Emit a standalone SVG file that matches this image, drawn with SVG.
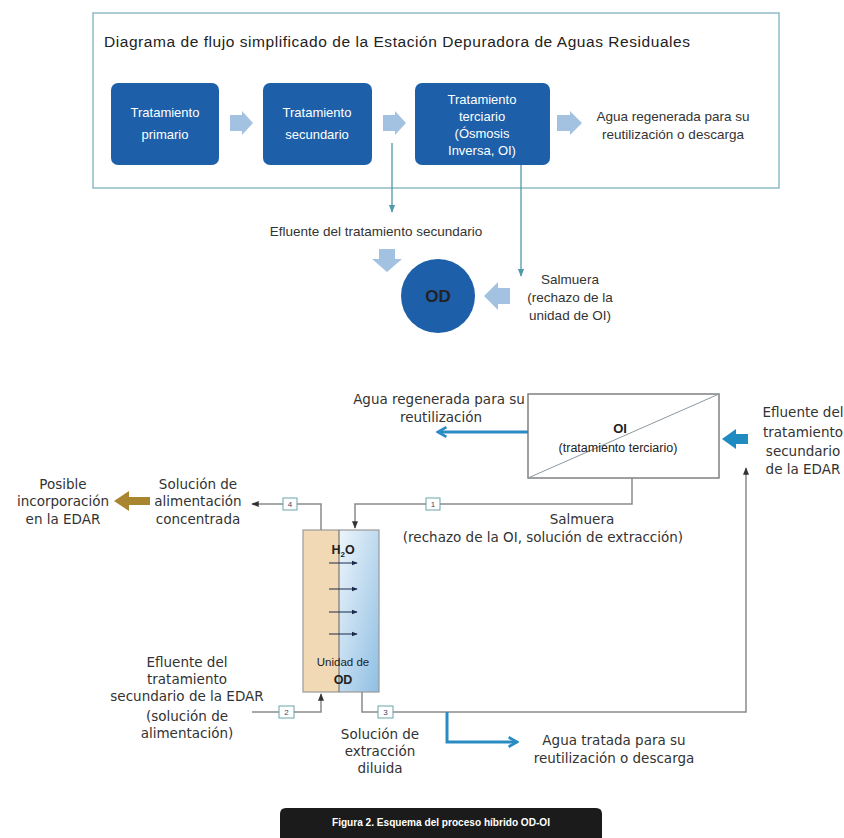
<svg xmlns="http://www.w3.org/2000/svg" width="844" height="838" viewBox="0 0 844 838">
<defs>
<style>
.t{font-family:"Liberation Sans",Arial,sans-serif;fill:#222;}
.top{font-size:13.5px;fill:#333;}
.bx{font-size:13px;fill:#fff;}
.b{font-family:"DejaVu Sans",Verdana,sans-serif;font-size:13.5px;fill:#333;}
.stepbox{fill:#1d5fa9;}
.lt{fill:#a3c2e2;}
.teal{stroke:#4f9aaa;stroke-width:1.3;fill:none;}
.gray{stroke:#8a8a8a;stroke-width:1.5;fill:none;}
.num{fill:#fff;stroke:#6aa3ad;stroke-width:1;}
.numt{font-family:"Liberation Sans",Arial,sans-serif;font-size:8px;fill:#446;text-anchor:middle;}
.blue{stroke:#2a8cc3;stroke-width:3;fill:none;}
.mem{stroke:#1a2a4a;stroke-width:1;}
</style>
<marker id="ta" viewBox="0 0 10 10" refX="9" refY="5" markerWidth="6" markerHeight="6" orient="auto"><path d="M0,1 L10,5 L0,9 z" fill="#4f9aaa"/></marker>
<marker id="ga" viewBox="0 0 10 10" refX="9" refY="5" markerWidth="5" markerHeight="5" orient="auto"><path d="M0,1 L10,5 L0,9 z" fill="#333"/></marker>
<marker id="ma" viewBox="0 0 10 10" refX="9" refY="5" markerWidth="6" markerHeight="6" orient="auto"><path d="M0,1 L10,5 L0,9 z" fill="#1a2a4a"/></marker>
<marker id="ba" viewBox="0 0 10 10" refX="8" refY="5" markerWidth="4" markerHeight="4" orient="auto"><path d="M1,1 L8,5 L1,9" fill="none" stroke="#2a8cc3" stroke-width="2.2"/></marker>
<linearGradient id="od" x1="0" y1="0" x2="1" y2="1">
<stop offset="0" stop-color="#eef5fb"/>
<stop offset="1" stop-color="#8fbfe3"/>
</linearGradient>
</defs>
<rect width="844" height="838" fill="#fff"/>

<g id="top-frame">
<rect x="93" y="13" width="686" height="175" fill="none" stroke="#8fbcc6" stroke-width="1.5"/>
<text class="t" x="104" y="47" font-size="15.5" fill="#333" textLength="586">Diagrama de flujo simplificado de la Estación Depuradora de Aguas Residuales</text>
</g>

<g id="primario">
<rect class="stepbox" x="111" y="83" width="108" height="82" rx="7"/>
<text class="t bx" x="165" y="117" text-anchor="middle">Tratamiento</text>
<text class="t bx" x="165" y="139" text-anchor="middle">primario</text>
</g>
<g id="secundario">
<rect class="stepbox" x="263" y="83" width="109" height="82" rx="7"/>
<text class="t bx" x="317" y="117" text-anchor="middle">Tratamiento</text>
<text class="t bx" x="317" y="139" text-anchor="middle">secundario</text>
</g>
<g id="terciario">
<rect class="stepbox" x="415" y="83" width="135" height="82" rx="7"/>
<text class="t bx" x="482" y="104" text-anchor="middle">Tratamiento</text>
<text class="t bx" x="482" y="121" text-anchor="middle">terciario</text>
<text class="t bx" x="482" y="138" text-anchor="middle">(Ósmosis</text>
<text class="t bx" x="482" y="155" text-anchor="middle">Inversa, OI)</text>
</g>
<g id="agua-regenerada-top">
<text class="t top" x="673" y="121" text-anchor="middle">Agua regenerada para su</text>
<text class="t top" x="673" y="139" text-anchor="middle">reutilización o descarga</text>
</g>
<g id="od-circle">
<circle cx="438" cy="296" r="37" fill="#1d5fa9"/>
<text class="t" x="438" y="302" font-size="17" font-weight="bold" fill="#fff" text-anchor="middle">OD</text>
</g>
<g id="top-labels">
<text class="t top" x="376" y="236" text-anchor="middle">Efluente del tratamiento secundario</text>
<text class="t top" x="570" y="284" text-anchor="middle">Salmuera</text>
<text class="t top" x="570" y="302" text-anchor="middle">(rechazo de la</text>
<text class="t top" x="570" y="320" text-anchor="middle">unidad de OI)</text>
</g>

<g id="top-connectors">
<polygon class="lt" points="230,115 242,115 242,111 253,123 242,135 242,131 230,131"/>
<polygon class="lt" points="383,115 395,115 395,111 406,123 395,135 395,131 383,131"/>
<polygon class="lt" points="557,115 570,115 570,111 582,123 570,135 570,131 557,131"/>
<polygon class="lt" points="379,249 395,249 395,259 402,259 387,272 372,259 379,259"/>
<polygon class="lt" points="510,288 498,288 498,282 484,296 498,310 498,304 510,304"/>
<path class="teal" d="M392,143 V212" marker-end="url(#ta)"/>
<path class="teal" d="M521,165 V276" marker-end="url(#ta)"/>
</g>

<g id="oi-box">
<rect x="528" y="394" width="191" height="84" fill="#fff" stroke="#808080" stroke-width="1.5"/>
<line x1="528" y1="478" x2="719" y2="394" stroke="#8a9aa0" stroke-width="1"/>
<text class="t" x="620" y="433" font-size="13" font-weight="bold" fill="#333" text-anchor="middle">OI</text>
<text class="t" x="618" y="452" font-size="12.5" fill="#333" text-anchor="middle">(tratamiento terciario)</text>
</g>

<g id="od-unit">
<rect x="303" y="530" width="36" height="162" fill="#f1d9b5"/>
<rect x="339" y="530" width="40" height="162" fill="url(#od)"/>
<rect x="303" y="530" width="76" height="162" fill="none" stroke="#9a9a9a" stroke-width="1.2"/>
<line x1="339" y1="530" x2="339" y2="692" stroke="#777" stroke-width="1.2"/>
<text class="t" x="343" y="554" font-size="12.5" font-weight="bold" fill="#333" text-anchor="middle">H<tspan font-size="8" dy="3">2</tspan><tspan dy="-3">O</tspan></text>
<line class="mem" x1="329" y1="563" x2="357" y2="563" marker-end="url(#ma)"/>
<line class="mem" x1="329" y1="589" x2="357" y2="589" marker-end="url(#ma)"/>
<line class="mem" x1="329" y1="612" x2="357" y2="612" marker-end="url(#ma)"/>
<line class="mem" x1="329" y1="634" x2="357" y2="634" marker-end="url(#ma)"/>
<text class="t" x="343" y="666" font-size="11.5" fill="#666" text-anchor="middle">Unidad de</text>
<text class="t" x="343" y="684" font-size="12.5" font-weight="bold" fill="#333" text-anchor="middle">OD</text>
</g>

<g id="connectors">
<path class="gray" d="M632,478 V504 H355 V528" marker-end="url(#ga)"/>
<path class="gray" d="M321,530 V504 H252" marker-end="url(#ga)"/>
<path class="gray" d="M252,712 H321 V694" marker-end="url(#ga)"/>
<path class="gray" d="M362,692 V712 H746 V468" marker-end="url(#ga)"/>
<path class="blue" d="M447,712 V742 H517" marker-end="url(#ba)"/>
<path class="blue" d="M528,432 H438" marker-end="url(#ba)"/>
<polygon points="748,434 736,434 736,429 722,439 736,449 736,444 748,444" fill="#1f8bc0"/>
<polygon points="150,497 129,497 129,491 114,501 129,511 129,505 150,505" fill="#a9852f"/>
<rect class="num" x="426" y="498" width="14" height="12"/><text class="numt" x="433" y="507">1</text>
<rect class="num" x="283" y="498" width="14" height="12"/><text class="numt" x="290" y="507">4</text>
<rect class="num" x="279" y="706" width="15" height="12"/><text class="numt" x="286.5" y="715">2</text>
<rect class="num" x="378" y="706" width="15" height="12"/><text class="numt" x="385.5" y="715">3</text>
</g>

<g id="bottom-labels">
<text class="b" x="439" y="404" text-anchor="middle" font-size="13">Agua regenerada para su</text>
<text class="b" x="441" y="422" text-anchor="middle">reutilización</text>
<text class="b" x="803" y="417" text-anchor="middle">Efluente del</text>
<text class="b" x="803" y="437" text-anchor="middle">tratamiento</text>
<text class="b" x="803" y="456" text-anchor="middle">secundario</text>
<text class="b" x="803" y="474" text-anchor="middle">de la EDAR</text>
<text class="b" x="582" y="524" text-anchor="middle">Salmuera</text>
<text class="b" x="543" y="542" text-anchor="middle">(rechazo de la OI, solución de extracción)</text>
<text class="b" x="198" y="489" text-anchor="middle">Solución de</text>
<text class="b" x="198" y="506" text-anchor="middle">alimentación</text>
<text class="b" x="198" y="524" text-anchor="middle">concentrada</text>
<text class="b" x="63" y="489" text-anchor="middle">Posible</text>
<text class="b" x="63" y="506" text-anchor="middle">incorporación</text>
<text class="b" x="63" y="524" text-anchor="middle">en la EDAR</text>
<text class="b" x="187" y="667" text-anchor="middle">Efluente del</text>
<text class="b" x="187" y="684" text-anchor="middle">tratamiento</text>
<text class="b" x="187" y="701" text-anchor="middle">secundario de la EDAR</text>
<text class="b" x="187" y="721" text-anchor="middle">(solución de</text>
<text class="b" x="187" y="738" text-anchor="middle">alimentación)</text>
<text class="b" x="380" y="739" text-anchor="middle">Solución de</text>
<text class="b" x="380" y="756" text-anchor="middle">extracción</text>
<text class="b" x="380" y="773" text-anchor="middle">diluida</text>
<text class="b" x="614" y="745" text-anchor="middle">Agua tratada para su</text>
<text class="b" x="614" y="763" text-anchor="middle">reutilización o descarga</text>
</g>

<g id="caption">
<path d="M280,838 V814 Q280,808 286,808 H596 Q602,808 602,814 V838 z" fill="#1b1b1b"/>
<text x="441" y="826" font-family="'Liberation Sans Narrow','Liberation Sans',Arial,sans-serif" font-size="11" font-weight="bold" fill="#fff" text-anchor="middle" textLength="218" lengthAdjust="spacingAndGlyphs">Figura 2. Esquema del proceso híbrido OD-OI</text>
</g>
</svg>
